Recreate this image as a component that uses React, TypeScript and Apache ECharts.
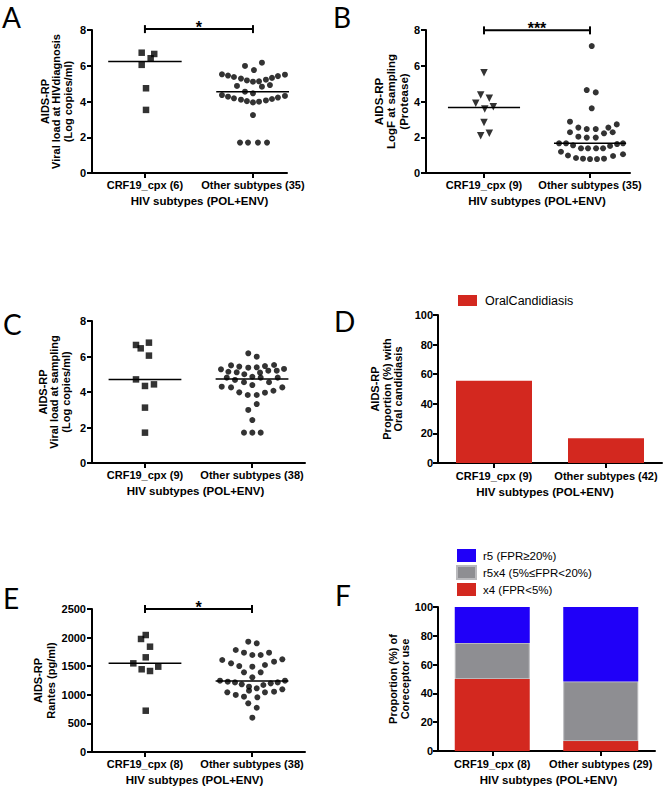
import React, { useEffect, useRef } from 'react';
import * as echarts from 'echarts';

const FONT = '"Liberation Sans", Arial, Helvetica, sans-serif';
const LETTER_FONT = 'Lato, "Open Sans", sans-serif';

// ---------- categories & labels ----------
const catsA = ['CRF19_cpx (6)', 'Other subtypes (35)'];
const catsB = ['CRF19_cpx (9)', 'Other subtypes (35)'];
const catsC = ['CRF19_cpx (9)', 'Other subtypes (38)'];
const catsD = ['CRF19_cpx (9)', 'Other subtypes (42)'];
const catsE = ['CRF19_cpx (8)', 'Other subtypes (38)'];
const catsF = ['CRF19_cpx (8)', 'Other subtypes (29)'];
const xTitle = 'HIV subtypes (POL+ENV)';
const yTitleA = 'AIDS-RP\nViral load at HIVdiagnosis\n(Log copies/ml)';
const yTitleB = 'AIDS-RP\nLogF at sampling\n(Protease)';
const yTitleC = 'AIDS-RP\nViral load at sampling\n(Log copies/ml)';
const yTitleD = 'AIDS-RP\nProportion (%) with\nOral candidiasis';
const yTitleE = 'AIDS-RP\nRantes (pg/ml)';
const yTitleF = 'Proportion (%) of\nCoreceptor use';
const panelLetters = ['A', 'B', 'C', 'D', 'E', 'F'];

// ---------- panel A: viral load at diagnosis ----------
const aCrfJit = [-0.03, 0.053, 0.086, -0.03, 0.01, 0.01];
const aCrfVal = [6.73, 6.42, 6.66, 6.05, 4.74, 3.53];
const aOthJit = [
  -0.074, 0.009, 0.083,
  -0.287, -0.231, -0.176, -0.111, -0.056, 0, 0.056, 0.12, 0.176, 0.231, 0.296,
  -0.148, 0.083, 0.157,
  -0.074, 0,
  -0.287, -0.231, -0.176, -0.111, -0.056, 0, 0.056, 0.12, 0.176, 0.231, 0.296,
  0,
  -0.12, -0.046, 0.046, 0.13,
];
const aOthVal = [
  5.99, 5.76, 6.17,
  5.52, 5.45, 5.37, 5.28, 5.18, 5.11, 5.13, 5.22, 5.32, 5.42, 5.5,
  4.87, 4.83, 4.92,
  4.55, 4.46,
  4.36, 4.27, 4.18, 4.1, 4.02, 3.95, 3.99, 4.06, 4.14, 4.22, 4.31,
  3.24,
  1.7, 1.7, 1.7, 1.7,
];
const aMedians = [6.24, 4.55];
const aSig = '*';

// ---------- panel B: LogF (protease) ----------
const bCrfJit = [0, -0.031, 0.05, -0.078, 0.007, 0.088, 0, -0.031, 0.05];
const bCrfVal = [5.61, 4.36, 4.18, 3.9, 3.58, 3.71, 2.82, 2.09, 2.22];
const bOthJit = [
  0.016, -0.031, 0.054, 0.016,
  -0.189, 0.252,
  -0.11, -0.031, 0.054, 0.173,
  -0.189, 0.132, 0.214,
  -0.11, -0.031, 0.054,
  -0.292, -0.226, -0.16, -0.085, -0.019, 0.057, 0.123, 0.189, 0.255, 0.311,
  -0.274, -0.208, -0.132, -0.066, 0, 0.066, 0.132, 0.217, 0.311,
];
const bOthVal = [
  7.1, 4.64, 4.51, 3.62,
  2.87, 2.72,
  2.54, 2.46, 2.46, 2.54,
  2.28, 2.22, 2.28,
  2.03, 1.98, 1.98,
  1.66, 1.66, 1.55, 1.38, 1.38, 1.38, 1.38, 1.51, 1.62, 1.66,
  1.19, 0.98, 0.84, 0.8, 0.78, 0.78, 0.8, 0.95, 1.05,
];
const bMedians = [3.67, 1.66];
const bSig = '***';

// ---------- panel C: viral load at sampling ----------
const cCrfJit = [-0.084, -0.04, 0.037, 0.037, -0.084, 0, 0.084, 0, 0];
const cCrfVal = [6.65, 6.46, 6.78, 6.05, 4.71, 4.34, 4.43, 3.12, 1.71];
const cOthJit = [
  -0.035, 0.044,
  -0.29, -0.196, -0.119, -0.035, 0.044, 0.121, 0.206, 0.299,
  -0.221, -0.143, -0.072, 0.075, 0.152, 0.231,
  -0.236, -0.159, -0.075, 0.003, 0.081, 0.159, 0.24,
  0.003,
  -0.283, -0.196, -0.119, -0.04, 0.044, 0.121, 0.2, 0.283,
  0.044, -0.035, 0.003,
  -0.075, 0.003, 0.081,
];
const cOthVal = [
  6.18, 5.99,
  5.28, 5.5, 5.43, 5.37, 5.39, 5.46, 5.52, 5.3,
  5.14, 5.11, 5.0, 5.09, 5.2, 5.2,
  4.81, 4.68, 4.55, 4.86, 4.81, 4.55, 4.81,
  4.39,
  4.3, 4.26, 3.98, 3.83, 3.83, 3.96, 4.07, 4.26,
  3.32, 2.99, 2.42,
  1.71, 1.71, 1.71,
];
const cMedians = [4.71, 4.73];

// ---------- panel D: oral candidiasis ----------
const dName = 'OralCandidiasis';
const dValues = [55.6, 16.7];

// ---------- panel E: Rantes ----------
const eCrfJit = [-0.037, 0.007, 0.047, 0.007, -0.109, -0.031, 0.047, 0.124, 0.007];
const eCrfVal = [1976, 2045, 1841, 1655, 1550, 1446, 1416, 1492, 722];
const eOthJit = [
  -0.035, 0.044, -0.152, -0.075, 0.003, 0.081, 0.159,
  -0.278, -0.196, -0.119, 0.003, 0.121, 0.206, 0.283,
  -0.075, 0.081, 0.003,
  -0.299, -0.227, -0.159, -0.096, -0.028, 0.106, 0.175, 0.24, 0.308,
  -0.231, -0.152, -0.075, -0.028, 0.044, 0.121, 0.206, 0.283, 0.05,
  -0.035, 0.044, 0.003,
];
const eOthVal = [
  1929, 1900, 1783, 1736, 1696, 1696, 1736,
  1608, 1550, 1503, 1492, 1521, 1579, 1620,
  1393, 1393, 1305,
  1247, 1229, 1217, 1183, 1142, 1171, 1200, 1217, 1247,
  1044, 997, 967, 1072, 1113, 1044, 1054, 1096, 956,
  851, 774, 600,
];
const eMedians = [1550, 1241];
const eSig = '*';

// ---------- panel F: coreceptor use ----------
const fNames = ['r5 (FPR≥20%)', 'r5x4 (5%≤FPR<20%)', 'x4 (FPR<5%)'];
const fX4 = [50, 6.9];
const fR5X4 = [25, 41.4];
const fR5 = [25, 51.7];

// ---------- styling helpers ----------
const BLACK = '#000';
const RED = '#d3281f';
const GRAY = '#8e8e92';
const BLUE = '#2000f8';

const axisLine = { show: true, onZero: false, lineStyle: { color: BLACK, width: 2 } };
const axisTick = { show: true, length: 5, lineStyle: { color: BLACK, width: 2 } };
const labelStyle = { color: BLACK, fontFamily: FONT, fontWeight: 'bold' as const, fontSize: 11 };

function yAxisOf(idx: number, min: number, max: number, interval: number, name: string, gap: number, fs: number, lh: number, margin: number) {
  return {
    type: 'value', gridIndex: idx, min, max, interval,
    axisLine, axisTick, splitLine: { show: false },
    axisLabel: { ...labelStyle, margin, formatter: (v: number) => String(v) },
    name, nameLocation: 'middle', nameGap: gap,
    nameTextStyle: { color: BLACK, fontFamily: FONT, fontWeight: 'bold', fontSize: fs, lineHeight: lh, align: 'center' },
  };
}

function xNameStyle(shift: number) {
  const pad = shift >= 0 ? [0, 0, 0, 2 * shift] : [0, -2 * shift, 0, 0];
  return { color: BLACK, fontFamily: FONT, fontWeight: 'bold', fontSize: 11.5, padding: pad };
}

function xValueAxis(idx: number, min: number, max: number, cats: string[], shift: number) {
  return {
    type: 'value', gridIndex: idx, min, max,
    axisLine, splitLine: { show: false },
    axisTick: { ...axisTick, customValues: [0, 1] },
    axisLabel: { ...labelStyle, margin: 6, customValues: [0, 1], formatter: (v: number) => cats[Math.round(v)] ?? '' },
    name: xTitle, nameLocation: 'middle', nameGap: 22, nameTextStyle: xNameStyle(shift),
  };
}

function xCatAxis(idx: number, cats: string[], shift: number) {
  return {
    type: 'category', gridIndex: idx, data: cats, boundaryGap: true,
    axisLine, axisTick: { ...axisTick, alignWithLabel: true, interval: 0 },
    axisLabel: { ...labelStyle, margin: 7, interval: 0, hideOverlap: false },
    name: xTitle, nameLocation: 'middle', nameGap: 23, nameTextStyle: xNameStyle(shift),
  };
}

function scatterSeries(idx: number, cat: number, jit: number[], vals: number[], symbol: string, size: number, rotate = 0) {
  return {
    type: 'scatter', xAxisIndex: idx, yAxisIndex: idx,
    data: vals.map((v, i) => [cat + jit[i], v]),
    symbol, symbolSize: size, symbolRotate: rotate,
    itemStyle: { color: BLACK }, silent: true,
  };
}

function medianSeries(idx: number, medians: number[]) {
  return medians.map((m, c) => ({
    type: 'line', xAxisIndex: idx, yAxisIndex: idx,
    data: [[c - 0.34, m], [c + 0.34, m]],
    symbol: 'none', lineStyle: { color: BLACK, width: 1.5 }, silent: true, z: 3,
  }));
}

function bracketSeries(idx: number, yb: number, sig: string) {
  return {
    type: 'custom', xAxisIndex: idx, yAxisIndex: idx, clip: false, silent: true, z: 5,
    data: [[0, 1, yb]],
    encode: { x: [0, 1], y: 2 },
    renderItem: (_p: any, api: any) => {
      const p0 = api.coord([api.value(0), api.value(2)]);
      const p1 = api.coord([api.value(1), api.value(2)]);
      const st = { stroke: BLACK, lineWidth: 2 };
      return {
        type: 'group',
        children: [
          { type: 'line', shape: { x1: p0[0], y1: p0[1], x2: p1[0], y2: p1[1] }, style: st },
          { type: 'line', shape: { x1: p0[0], y1: p0[1] - 4, x2: p0[0], y2: p0[1] + 4 }, style: st },
          { type: 'line', shape: { x1: p1[0], y1: p1[1] - 4, x2: p1[0], y2: p1[1] + 4 }, style: st },
          {
            type: 'text',
            style: {
              text: sig, x: (p0[0] + p1[0]) / 2, y: p0[1] - 2,
              textAlign: 'center', textVerticalAlign: 'middle',
              fontFamily: FONT, fontWeight: 'bold', fontSize: 16, fill: BLACK,
            },
          },
        ],
      };
    },
  };
}

function buildOption() {
  const grid = [
    { left: 92, top: 30, width: 195, height: 143 },
    { left: 426, top: 30, width: 204, height: 143 },
    { left: 92, top: 321, width: 213, height: 142 },
    { left: 438, top: 315, width: 224, height: 148 },
    { left: 92, top: 609, width: 213, height: 143 },
    { left: 438, top: 607, width: 217, height: 144 },
  ];
  const xAxis = [
    xValueAxis(0, -0.49, 1.315, catsA, 10),
    xValueAxis(1, -0.547, 1.377, catsB, 9),
    xValueAxis(2, -0.495, 1.495, catsC, -3),
    xCatAxis(3, catsD, -5),
    xValueAxis(4, -0.495, 1.495, catsE, -4),
    xCatAxis(5, catsF, 2),
  ];
  const yAxis = [
    yAxisOf(0, 0, 8, 2, yTitleA, 18.5, 11, 11.5, 6),
    yAxisOf(1, 0, 8, 2, yTitleB, 14.5, 11.5, 12.5, 6),
    yAxisOf(2, 0, 8, 2, yTitleC, 20.5, 11, 11.5, 6),
    yAxisOf(3, 0, 100, 20, yTitleD, 34, 11, 11.5, 5),
    yAxisOf(4, 0, 2500, 500, yTitleE, 29, 11, 13, 6),
    yAxisOf(5, 0, 100, 20, yTitleF, 24, 11, 12, 5),
  ];
  const series: any[] = [
    scatterSeries(0, 0, aCrfJit, aCrfVal, 'rect', 6.5),
    scatterSeries(0, 1, aOthJit, aOthVal, 'circle', 6),
    ...medianSeries(0, aMedians),
    bracketSeries(0, 8.05, aSig),

    scatterSeries(1, 0, bCrfJit, bCrfVal, 'triangle', 7.5, 180),
    scatterSeries(1, 1, bOthJit, bOthVal, 'circle', 6),
    ...medianSeries(1, bMedians),
    bracketSeries(1, 7.98, bSig),

    scatterSeries(2, 0, cCrfJit, cCrfVal, 'rect', 6.5),
    scatterSeries(2, 1, cOthJit, cOthVal, 'circle', 6),
    ...medianSeries(2, cMedians),

    {
      name: dName, type: 'bar', xAxisIndex: 3, yAxisIndex: 3, data: dValues,
      barWidth: 76, itemStyle: { color: RED }, silent: true,
    },

    scatterSeries(4, 0, eCrfJit, eCrfVal, 'rect', 6.5),
    scatterSeries(4, 1, eOthJit, eOthVal, 'circle', 6),
    ...medianSeries(4, eMedians),
    bracketSeries(4, 2500, eSig),

    {
      name: fNames[2], type: 'bar', stack: 'f', xAxisIndex: 5, yAxisIndex: 5, data: fX4,
      barWidth: 75, itemStyle: { color: RED }, silent: true,
    },
    {
      name: fNames[1], type: 'bar', stack: 'f', xAxisIndex: 5, yAxisIndex: 5, data: fR5X4,
      barWidth: 75, itemStyle: { color: GRAY, borderColor: '#b9b9bc', borderWidth: 1 }, silent: true,
    },
    {
      name: fNames[0], type: 'bar', stack: 'f', xAxisIndex: 5, yAxisIndex: 5, data: fR5,
      barWidth: 75, itemStyle: { color: BLUE }, silent: true,
    },
  ];

  const letterPos = [
    [2, 17.5], [333, 17.5], [3, 325], [334, 321.5], [3, 599], [335, 596],
  ];
  const title = panelLetters.map((t, i) => ({
    text: t, left: letterPos[i][0], top: letterPos[i][1] - 15, padding: 0,
    textStyle: { fontFamily: LETTER_FONT, fontWeight: 'normal', fontSize: 28, color: BLACK },
  }));

  const legend = [
    {
      data: [dName], left: 458, top: 294, padding: 0, orient: 'horizontal',
      icon: 'rect', itemWidth: 19, itemHeight: 11, selectedMode: false,
      textStyle: { color: BLACK, fontFamily: FONT, fontSize: 12.5, padding: [0, 0, 0, 3] },
    },
    {
      data: fNames, left: 456, top: 549, padding: 0, orient: 'vertical', itemGap: 3,
      icon: 'rect', itemWidth: 19, itemHeight: 13, selectedMode: false,
      textStyle: { color: BLACK, fontFamily: FONT, fontSize: 11.5, padding: [0, 0, 0, 2] },
    },
  ];

  return { animation: false, backgroundColor: '#fff', title, legend, grid, xAxis, yAxis, series };
}

export default function App() {
  const ref = useRef<HTMLDivElement>(null);
  useEffect(() => {
    if (!ref.current) return;
    const chart = echarts.init(ref.current, undefined, { renderer: 'svg' });
    chart.setOption(buildOption() as any);
    return () => chart.dispose();
  }, []);
  return <div ref={ref} style={{ position: 'absolute', left: 0, top: 0, width: 664, height: 789, background: '#fff' }} />;
}
